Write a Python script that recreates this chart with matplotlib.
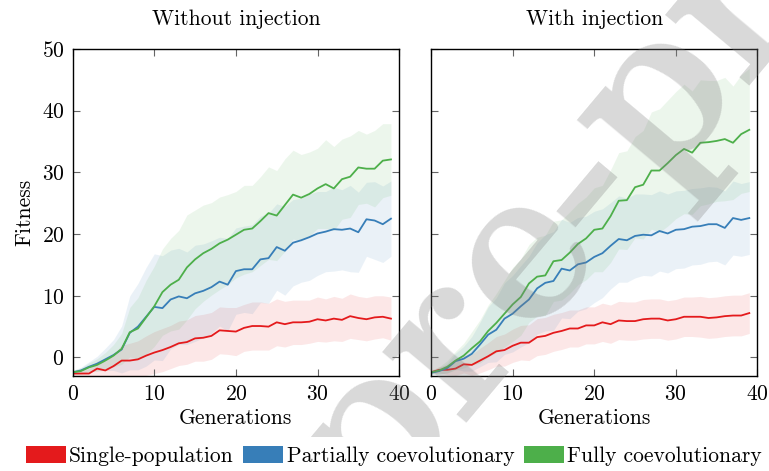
import numpy as np
import matplotlib.pyplot as plt
from matplotlib.patches import Patch
from matplotlib.transforms import Bbox, TransformedBbox

plt.rcParams['font.family'] = ['cmr10', 'DejaVu Serif']
plt.rcParams['axes.formatter.use_mathtext'] = True
plt.rcParams['font.size'] = 15.5

generations = np.arange(40)
titles = ['Without injection', 'With injection']
labels = ['Single-population', 'Partially coevolutionary', 'Fully coevolutionary']
colors = ['#e41a1c', '#377eb8', '#4daf4a']

# mean fitness per generation, without injection
single_wo = [-2.6, -2.6, -2.6, -1.8, -2.1, -1.4, -0.5, -0.5, -0.3, 0.3,
             0.8, 1.2, 1.7, 2.3, 2.5, 3.1, 3.2, 3.5, 4.4, 4.3,
             4.2, 4.8, 5.1, 5.1, 5.0, 5.7, 5.4, 5.7, 5.7, 5.8,
             6.2, 6.0, 6.3, 6.1, 6.7, 6.4, 6.2, 6.5, 6.6, 6.3]
partial_wo = [-2.4, -2.1, -1.5, -1.0, -0.3, 0.4, 1.3, 4.0, 5.0, 6.6,
              8.2, 8.0, 9.4, 9.9, 9.6, 10.4, 10.8, 11.4, 12.3, 11.8,
              14.0, 14.3, 14.3, 15.9, 16.1, 17.9, 17.3, 18.6, 19.0, 19.5,
              20.1, 20.4, 20.8, 20.7, 20.9, 20.3, 22.4, 22.2, 21.6, 22.5]
full_wo = [-2.4, -2.2, -1.6, -1.2, -0.5, 0.3, 1.4, 4.1, 4.7, 6.5,
           8.3, 10.6, 11.8, 12.6, 14.6, 15.9, 16.9, 17.6, 18.5, 19.1,
           19.9, 20.7, 20.9, 22.1, 23.4, 23.0, 24.7, 26.4, 25.9, 26.5,
           27.4, 28.1, 27.4, 28.9, 29.3, 30.8, 30.6, 30.6, 31.9, 32.1]

# standard deviation per generation, without injection
single_wo_sd = [0.3, 0.5, 0.8, 1.2, 1.5, 2.0, 2.5, 2.8, 3.0, 3.2,
                3.4, 3.5, 3.5, 3.6, 3.6, 3.7, 3.8, 3.8, 3.8, 3.8,
                3.9, 3.8, 3.9, 3.9, 3.8, 3.8, 3.7, 3.6, 3.6, 3.5,
                3.6, 3.5, 3.6, 3.5, 3.6, 3.5, 3.5, 3.5, 3.4, 3.5]
partial_wo_sd = [0.3, 0.5, 0.8, 1.2, 1.8, 2.5, 3.8, 6.0, 7.0, 8.0,
                 8.6, 8.5, 8.0, 7.8, 7.5, 7.8, 7.6, 7.5, 7.2, 7.5,
                 7.0, 7.0, 7.2, 7.0, 7.3, 7.0, 7.2, 7.0, 6.8, 7.0,
                 6.8, 6.5, 6.8, 6.5, 7.0, 6.5, 6.0, 6.3, 6.2, 6.1]
full_wo_sd = [0.3, 0.5, 0.7, 1.0, 1.3, 1.8, 2.5, 4.0, 5.0, 6.0,
              6.5, 7.0, 7.5, 8.0, 8.5, 8.0, 7.8, 7.5, 7.5, 7.3,
              7.0, 7.2, 7.0, 7.2, 7.5, 7.3, 7.5, 7.2, 7.0, 6.8,
              6.5, 7.2, 6.8, 6.5, 6.6, 6.0, 5.6, 6.2, 6.0, 5.8]

# mean fitness per generation, with injection
single_wi = [-2.4, -2.0, -2.0, -1.8, -1.1, -1.2, -0.5, 0.2, 1.0, 1.2,
             1.9, 2.4, 2.4, 3.3, 3.5, 4.0, 4.3, 4.7, 4.7, 5.2,
             5.2, 5.7, 5.4, 6.0, 5.9, 5.9, 6.2, 6.3, 6.3, 6.0,
             6.2, 6.6, 6.6, 6.6, 6.4, 6.5, 6.7, 6.8, 6.8, 7.2]
partial_wi = [-2.5, -2.2, -1.7, -0.6, -0.2, 0.6, 2.1, 3.7, 4.5, 6.3,
              7.1, 8.3, 9.4, 11.2, 12.1, 12.4, 14.4, 14.1, 15.1, 15.4,
              16.3, 16.9, 18.1, 19.2, 19.0, 19.7, 19.9, 19.8, 20.5, 20.1,
              20.7, 20.8, 21.2, 21.3, 21.6, 21.6, 21.0, 22.6, 22.3, 22.6]
full_wi = [-2.4, -2.1, -1.5, -0.5, 0.3, 1.5, 2.6, 4.3, 5.6, 7.1,
           8.6, 9.8, 12.0, 13.1, 13.3, 15.6, 15.8, 17.0, 18.4, 19.3,
           20.7, 20.9, 22.9, 25.4, 25.5, 27.6, 28.0, 30.3, 30.3, 31.5,
           32.8, 33.8, 33.2, 34.8, 34.9, 35.1, 35.4, 34.8, 36.2, 36.9]

# standard deviation per generation, with injection
single_wi_sd = [0.3, 0.5, 0.8, 1.1, 1.4, 1.7, 2.0, 2.2, 2.4, 2.6,
                2.7, 2.8, 2.9, 3.0, 3.0, 3.0, 3.0, 3.0, 3.0, 3.0,
                3.0, 3.1, 3.1, 3.1, 3.1, 3.1, 3.2, 3.2, 3.2, 3.2,
                3.2, 3.2, 3.2, 3.3, 3.3, 3.3, 3.3, 3.3, 3.3, 3.3]
partial_wi_sd = [0.3, 0.5, 0.8, 1.3, 2.0, 2.8, 3.6, 4.5, 5.2, 5.8,
                 6.2, 6.6, 7.0, 7.4, 7.8, 8.0, 8.0, 7.8, 7.6, 7.5,
                 7.4, 7.2, 7.0, 7.0, 6.8, 6.8, 6.6, 6.6, 6.5, 6.4,
                 6.3, 6.3, 6.2, 6.2, 6.1, 6.0, 6.0, 6.0, 5.9, 5.9]
full_wi_sd = [0.3, 0.6, 1.0, 1.5, 2.0, 2.7, 3.5, 4.2, 4.8, 5.4,
              6.0, 6.2, 6.3, 6.4, 6.5, 6.5, 6.5, 6.6, 6.6, 6.7,
              6.8, 7.0, 7.5, 7.8, 8.0, 8.2, 8.8, 9.5, 10.0, 10.2,
              10.3, 10.5, 10.0, 10.2, 10.0, 9.8, 10.0, 9.2, 9.6, 10.0]

panels = [
    [(single_wo, single_wo_sd), (partial_wo, partial_wo_sd), (full_wo, full_wo_sd)],
    [(single_wi, single_wi_sd), (partial_wi, partial_wi_sd), (full_wi, full_wi_sd)],
]

fig = plt.figure(figsize=(7.69, 4.71), dpi=100)
ax_left = fig.add_axes([0.0945, 0.2017, 0.4245, 0.6943])
ax_right = fig.add_axes([0.5605, 0.2017, 0.4245, 0.6943])

for ax, title, series in zip([ax_left, ax_right], titles, panels):
    for (mean, sd), color in zip(series, colors):
        mean = np.array(mean)
        sd = np.array(sd)
        ax.fill_between(generations, mean - sd, mean + sd, color=color,
                        alpha=0.1, linewidth=0)
        ax.plot(generations, mean, color=color, linewidth=1.3)
    ax.set_xlim(0, 40)
    ax.set_ylim(-3, 50)
    ax.set_xticks([0, 10, 20, 30, 40])
    ax.set_yticks([0, 10, 20, 30, 40, 50])
    ax.tick_params(direction='in', top=True, right=True, length=5,
                   width=0.8, color='#666666', labelsize=15.5, pad=6)
    for spine in ax.spines.values():
        spine.set_linewidth(1.0)
    ax.set_title(title, fontsize=15.5, pad=17)
    ax.set_xlabel('Generations', fontsize=15.5, labelpad=3)

ax_left.set_ylabel('Fitness', fontsize=15.5, labelpad=5)
ax_right.tick_params(labelleft=False)

handles = [Patch(facecolor=c, edgecolor='none') for c in colors]
fig.legend(handles, labels, loc='lower center', bbox_to_anchor=(0.512, -0.03),
           ncol=3, frameon=False, fontsize=15.5, handlelength=1.85,
           handleheight=0.85, handletextpad=0.15, columnspacing=0.45)

# pre-print watermark, cut off above the legend
mark = fig.text(0.839, 0.766, 'pre-print', fontsize=178,
                family=['cmb10', 'DejaVu Serif'], color='#808080', alpha=0.3,
                rotation=50, rotation_mode='anchor', ha='center', va='center',
                zorder=10)
mark.set_clip_box(TransformedBbox(Bbox([[0, 0.072], [1, 1]]), fig.transFigure))
mark.set_clip_on(True)

fig.savefig('out.png', dpi=100)
